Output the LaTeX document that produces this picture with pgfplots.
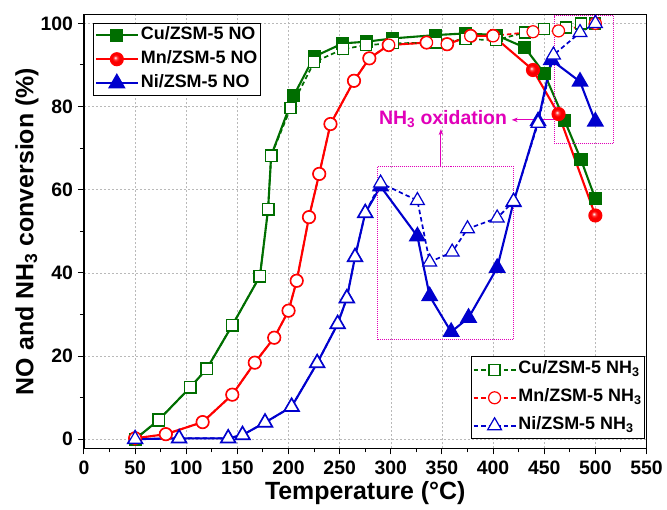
\documentclass[border=0pt]{standalone}
\usepackage{fontspec}
\setmainfont{Liberation Sans}
\usepackage{pgfplots}
\pgfplotsset{compat=1.18}
\usetikzlibrary{arrows.meta}
\makeatletter
\pgfdeclareradialshading[tikz@ball]{ball}{\pgfqpoint{-7bp}{7bp}}{color(0bp)=(tikz@ball!0!white); color(8bp)=(tikz@ball!80!white); color(15bp)=(tikz@ball); color(25bp)=(tikz@ball!92!black); color(50bp)=(tikz@ball!80!black)}
\makeatother
\definecolor{cgreen}{RGB}{0,110,0}
\definecolor{cred}{RGB}{255,0,0}
\definecolor{cblue}{RGB}{0,0,205}
\definecolor{cmag}{RGB}{225,0,185}
\begin{document}
\begin{tikzpicture}
\useasboundingbox (-84bp,-61.7bp) rectangle (583bp,448.3bp);
\begin{axis}[
  at={(0,0)}, anchor=south west,
  width=562.5bp, height=433.6bp, scale only axis,
  xmin=0, xmax=550, ymin=-2.2, ymax=102.1,
  xtick={0,50,...,550}, minor x tick num=1,
  ytick={0,20,...,100}, minor y tick num=1,
  xtick pos=bottom, ytick pos=left,
  tick align=outside, major tick length=6bp, minor tick length=4bp,
  every tick/.style={black, line width=1bp},
  axis line style={line width=1.4bp},
  grid=major,
  major grid style={gray!55, line width=0.6bp, dash pattern=on 2bp off 2bp},
  /pgf/number format/assume math mode=true,
  ticklabel style={font=\bfseries\fontsize{19.5}{19.5}\selectfont},
  xticklabel shift=3bp, yticklabel shift=1.5bp,
  xlabel={Temperature (\textdegree C)},
  ylabel={NO and NH\textsubscript{3} conversion (\%)},
  label style={font=\bfseries\fontsize{25}{25}\selectfont},
  xlabel style={at={(axis description cs:0.5,-0.1031)}, anchor=center},
  ylabel style={at={(axis description cs:-0.1013,0.5)}, anchor=center},
  legend style={at={(rel axis cs:0.0165,0.9815)}, anchor=north west,
    draw=black, line width=1bp, fill=white,
    font=\bfseries\fontsize{18}{18}\selectfont,
    inner xsep=1bp, inner ysep=1.5bp, row sep=3bp,
    nodes={inner sep=2bp, text height=13bp, text depth=4bp}},
  legend cell align=left,
  legend image code/.code={\draw[mark repeat=2,mark phase=2,#1] plot coordinates {(0bp,0bp) (21bp,0bp) (42bp,0bp)};},
]
% NO series
\addplot[color=cgreen, line width=2.1bp, mark=square*, mark size=5.5bp, mark options={solid, fill=cgreen}] coordinates {
(50,0) (73,4.6) (104,12.5) (120,16.9) (145,27.4) (172,39.2) (180,55.3) (183,68.2)
(205,82.6) (225,92) (253,95.2) (276,95.6) (302,96.4) (344,97.2) (373,97.6) (403,97.2)
(431,94.2) (450,88) (470,76.6) (486,67.2) (500,57.8)};
\addplot[color=cred, line width=2.1bp, mark=ball, mark size=6bp, mark options={ball color=red}] coordinates {
(50,0.2) (80,1.2) (116,4.1) (145,10.7) (167,18.4) (186,24.4) (200,30.9) (208,38.1)
(220,53.4) (230,63.8) (241,75.8) (264,86.2) (279,91.6) (298,94.8) (335,95.4) (355,95)
(378,97) (400,97) (439,88.8) (464,78.2) (500,53.8)};
\addplot[color=cblue, line width=2.1bp, mark=triangle*, mark size=8bp, mark options={solid, fill=cblue}] coordinates {
(50,0) (93,0.2) (141,0.2) (155,1.0) (177,4.0) (203,7.8) (228,18.3) (248,27.7) (257,33.9)
(265,43.8) (275,54.4) (290,60.8) (326,48.8) (338,34.4) (359,25.8) (376,29.2) (404,41.2)
(420,57) (444,76.5) (457,91.2) (485,86) (500,76.4)};
\legend{Cu/ZSM-5 NO, Mn/ZSM-5 NO, Ni/ZSM-5 NO}
% NH3 series
\addplot[color=cgreen, line width=1.7bp, dash pattern=on 4.5bp off 3bp, mark=square*, mark size=5.5bp, mark options={solid, fill=white, draw=cgreen, line width=1.2bp}] coordinates {
(50,0) (73,4.6) (104,12.5) (120,16.9) (145,27.4) (172,39.2) (180,55.3) (183,68.2)
(202,79.6) (225,90.7) (253,93.8) (276,94.8) (302,95.2) (344,95.4) (373,96.2) (403,96)
(431,97.8) (450,98.6) (471,99) (486,100) (500,100)};
\addplot[color=cred, line width=1.7bp, dash pattern=on 4.5bp off 3bp, mark=*, mark size=6bp, mark options={solid, fill=white, draw=cred, line width=1.2bp}] coordinates {
(50,0.2) (80,1.2) (116,4.1) (145,10.7) (167,18.4) (186,24.4) (200,30.9) (208,38.1)
(220,53.4) (230,63.8) (241,75.8) (264,86.2) (279,91.6) (298,94.8) (335,95.4) (355,95)
(378,97) (400,97) (439,98) (464,98.2) (500,100)};
\addplot[color=cblue, line width=1.7bp, dash pattern=on 4.5bp off 3bp, mark=triangle*, mark size=8bp, mark options={solid, fill=white, draw=cblue, line width=1.2bp}] coordinates {
(50,0) (93,0.2) (141,0.2) (155,1.0) (177,4.0) (203,7.8) (228,18.3) (248,27.7) (257,33.9)
(265,43.8) (275,54.4) (290,61.6) (326,57.4) (338,42.6) (360,45) (375,50.6) (404,53.2)
(420,57.2) (444,76) (459,92.4) (485,97.8) (500,100)};
% annotations
\draw[cmag, line width=1bp, densely dotted] (axis cs:286.8,23.9) rectangle (axis cs:419.8,65.6);
\draw[cmag, line width=1bp, densely dotted] (axis cs:459.6,71) rectangle (axis cs:517.6,101.8);
\draw[cmag, line width=1bp, -{Stealth[length=6bp,width=4.5bp]}] (axis cs:349,65.6) -- (axis cs:349,74.6);
\draw[cmag, line width=1bp, -{Stealth[length=6bp,width=4.5bp]}] (axis cs:459.6,76.8) -- (axis cs:418.2,76.8);
\node[text=cmag, font=\bfseries\fontsize{19.5}{19.5}\selectfont] at (axis cs:351,77) {NH\textsubscript{3} oxidation};
\end{axis}
\begin{axis}[
  at={(0,0)}, anchor=south west,
  width=562.5bp, height=433.6bp, scale only axis,
  xmin=0, xmax=550, ymin=-2.2, ymax=102.1, hide axis,
  legend style={at={(rel axis cs:0.9973,0.0208)}, anchor=south east,
    draw=black, line width=1bp, fill=white,
    font=\bfseries\fontsize{18}{18}\selectfont,
    inner xsep=1bp, inner ysep=1.5bp, row sep=5bp,
    nodes={inner sep=2bp, text height=13bp, text depth=6bp}},
  legend cell align=left,
  legend image code/.code={\draw[mark repeat=2,mark phase=2,#1] plot coordinates {(0bp,0bp) (21bp,0bp) (42bp,0bp)};},
]
\addlegendimage{color=cgreen, line width=1.7bp, dash pattern=on 4.5bp off 3bp, mark=square*, mark size=5.5bp, mark options={solid, fill=white, draw=cgreen, line width=1.2bp}}
\addlegendimage{color=cred, line width=1.7bp, dash pattern=on 4.5bp off 3bp, mark=*, mark size=6bp, mark options={solid, fill=white, draw=cred, line width=1.2bp}}
\addlegendimage{color=cblue, line width=1.7bp, dash pattern=on 4.5bp off 3bp, mark=triangle*, mark size=8bp, mark options={solid, fill=white, draw=cblue, line width=1.2bp}}
\legend{Cu/ZSM-5 NH\textsubscript{3}, Mn/ZSM-5 NH\textsubscript{3}, Ni/ZSM-5 NH\textsubscript{3}}
\end{axis}
\end{tikzpicture}
\end{document}
